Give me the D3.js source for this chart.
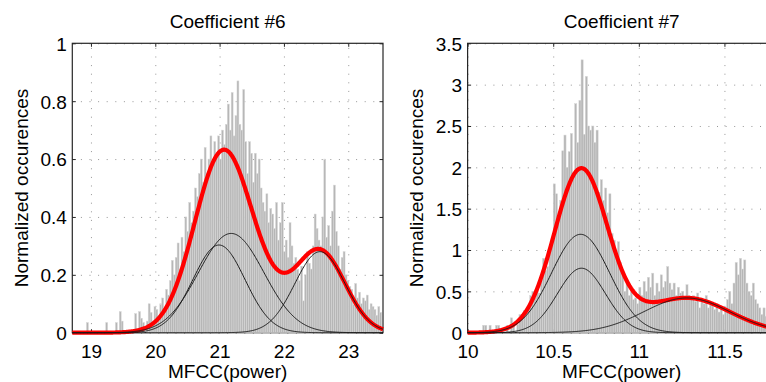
<!DOCTYPE html>
<html>
<head>
<meta charset="utf-8">
<script src="https://cdn.jsdelivr.net/npm/d3@7"></script>
<style>
  body { margin: 0; background: #fff; }
  svg { display: block; font-family: "Liberation Sans", Arial, Helvetica, sans-serif; }
</style>
</head>
<body>
<svg id="chart" width="766" height="382"></svg>
<script>
// ---- data ----
const titles = ["Coefficient #6", "Coefficient #7"]
const xLabel = "MFCC(power)"
const yLabel = "Normalized occurences"

// coefficient 6
const c6XTicks = [19, 20, 21, 22, 23]
const c6XTickLabels = ["19", "20", "21", "22", "23"]
const c6YTicks = [0, 0.2, 0.4, 0.6, 0.8, 1]
const c6YTickLabels = ["0", "0.2", "0.4", "0.6", "0.8", "1"]
const c6XRange = [18.71, 23.54]
const c6YMax = 1
const c6BinStart = 18.90
const c6BinWidth = 0.03
const c6Hist = [
  0, 0.035, 0, 0, 0, 0, 0, 0, 0, 0,
  0, 0.035, 0, 0, 0, 0, 0.035, 0, 0.073, 0.04,
  0, 0, 0, 0, 0, 0, 0.066, 0, 0.073, 0.05,
  0.035, 0, 0.04, 0.1, 0.07, 0.03, 0.09, 0.08, 0.06, 0.1,
  0.12, 0.08, 0.15, 0.13, 0.18, 0.25, 0.2, 0.26, 0.31, 0.22,
  0.33, 0.28, 0.4, 0.35, 0.45, 0.38, 0.42, 0.5, 0.47, 0.55,
  0.6, 0.52, 0.64, 0.55, 0.6, 0.68, 0.58, 0.66, 0.62, 0.68,
  0.6, 0.7, 0.65, 0.72, 0.79, 0.7, 0.83, 0.68, 0.75, 0.87,
  0.72, 0.7, 0.84, 0.66, 0.55, 0.66, 0.62, 0.52, 0.62, 0.55,
  0.6, 0.5, 0.45, 0.42, 0.48, 0.38, 0.43, 0.41, 0.36, 0.45,
  0.32, 0.38, 0.45, 0.28, 0.32, 0.26, 0.38, 0.3, 0.24, 0.26,
  0.22, 0.18, 0.23, 0.11, 0.2, 0.28, 0.24, 0.22, 0.3, 0.41,
  0.36, 0.32, 0.3, 0.4, 0.6, 0.33, 0.37, 0.3, 0.42, 0.51,
  0.35, 0.3, 0.22, 0.26, 0.28, 0.2, 0.18, 0.16, 0.15, 0.1,
  0.17, 0.12, 0.14, 0.1, 0.12, 0.11, 0.13, 0.08, 0.1, 0.09,
  0.08, 0.06, 0.09, 0.07
]
// mixture components: mean, std dev, peak height
const c6Means = [20.99, 21.18, 22.56]
const c6Sigmas = [0.405, 0.509, 0.39]
const c6Peaks = [0.303, 0.343, 0.28]

// coefficient 7
const c7XTicks = [10, 10.5, 11, 11.5]
const c7XTickLabels = ["10", "10.5", "11", "11.5"]
const c7YTicks = [0, 0.5, 1, 1.5, 2, 2.5, 3, 3.5]
const c7YTickLabels = ["0", "0.5", "1", "1.5", "2", "2.5", "3", "3.5"]
const c7XRange = [10, 11.8]
const c7YMax = 3.5
const c7BinStart = 10.05
const c7BinWidth = 0.0125
const c7Hist = [
  0, 0, 0, 0.09, 0.09, 0, 0.09, 0, 0, 0.09,
  0.09, 0, 0, 0, 0.09, 0, 0.18, 0.09, 0, 0.1,
  0.22, 0.2, 0.27, 0.24, 0.3, 0.45, 0.5, 0.42, 0.56, 0.48,
  0.63, 0.9, 0.75, 0.8, 1.0, 1.13, 1.8, 1.68, 1.4, 1.6,
  2.2, 2.39, 2.0, 2.19, 2.41, 1.9, 2.77, 2.3, 2.81, 3.3,
  2.4, 3.1, 2.5, 2.45, 2.5, 2.3, 2.45, 1.7, 1.85, 1.6,
  1.75, 1.45, 1.68, 1.2, 1.12, 1.0, 1.1, 0.85, 0.75, 0.5,
  0.6, 0.45, 0.5, 0.4, 0.42, 0.35, 0.55, 0.45, 0.62, 0.5,
  0.67, 0.55, 0.72, 0.45, 0.6, 0.5, 0.7, 0.55, 0.62, 0.8,
  0.6, 0.52, 0.6, 0.45, 0.55, 0.48, 0.5, 0.42, 0.58, 0.45,
  0.4, 0.45, 0.38, 0.48, 0.3, 0.42, 0.35, 0.45, 0.3, 0.38,
  0.33, 0.28, 0.35, 0.25, 0.32, 0.22, 0.3, 0.4, 0.5, 0.35,
  0.6, 0.85, 0.7, 0.9, 0.77, 0.88, 0.6, 0.5, 0.45, 0.6,
  0.4, 0.35, 0.3, 0.22, 0.3, 0.2, 0.25, 0.18, 0.22, 0.15
]
const c7Means = [10.66, 10.665, 11.28]
const c7Sigmas = [0.17, 0.14, 0.25]
const c7Peaks = [1.19, 0.78, 0.42]

// ---- layout ----
const svg = d3.select("#chart")
const plotTop = 43.3, plotBottom = 332.7
const h = plotBottom - plotTop

const panels = [
  { left: 72.3, width: 310.7, title: titles[0], xRange: c6XRange, yMax: c6YMax,
    xTicks: c6XTicks, xTickLabels: c6XTickLabels, yTicks: c6YTicks, yTickLabels: c6YTickLabels,
    binStart: c6BinStart, binWidth: c6BinWidth, hist: c6Hist,
    means: c6Means, sigmas: c6Sigmas, peaks: c6Peaks },
  { left: 467.6, width: 308.2, title: titles[1], xRange: c7XRange, yMax: c7YMax,
    xTicks: c7XTicks, xTickLabels: c7XTickLabels, yTicks: c7YTicks, yTickLabels: c7YTickLabels,
    binStart: c7BinStart, binWidth: c7BinWidth, hist: c7Hist,
    means: c7Means, sigmas: c7Sigmas, peaks: c7Peaks }
]

function gauss(x, mu, s, a) {
  return a * Math.exp(-((x - mu) * (x - mu)) / (2 * s * s))
}

panels.forEach((p) => {
  const g = svg.append("g").attr("transform", `translate(${p.left},${plotTop})`)
  const w = p.width

  const xs = d3.scaleLinear().domain(p.xRange).range([0, w])
  const ys = d3.scaleLinear().domain([0, p.yMax]).range([h, 0])

  // dotted grid (under the data, like matlab)
  const gridX = g.append("g").attr("transform", `translate(0,${h})`)
    .call(d3.axisBottom(xs).tickValues(p.xTicks).tickSize(-h).tickFormat(""))
  const gridY = g.append("g")
    .call(d3.axisLeft(ys).tickValues(p.yTicks).tickSize(-w).tickFormat(""))
  ;[gridX, gridY].forEach(gg => {
    gg.select(".domain").remove()
    gg.selectAll("line").attr("stroke", "#8a8a8a").attr("stroke-width", 0.9)
      .attr("stroke-dasharray", "1,7.6")
  })

  // frame + inward ticks on all four sides
  g.append("rect").attr("width", w).attr("height", h)
    .attr("fill", "none").attr("stroke", "#262626").attr("stroke-width", 1.2)

  const tk = 3.5
  const axB = g.append("g").attr("transform", `translate(0,${h})`)
    .call(d3.axisBottom(xs).tickValues(p.xTicks).tickSize(-tk).tickPadding(12.2)
      .tickFormat((d, i) => p.xTickLabels[i]))
  const axT = g.append("g")
    .call(d3.axisTop(xs).tickValues(p.xTicks).tickSize(-tk).tickFormat(""))
  const axL = g.append("g")
    .call(d3.axisLeft(ys).tickValues(p.yTicks).tickSize(-tk).tickPadding(5.5)
      .tickFormat((d, i) => p.yTickLabels[i]))
  const axR = g.append("g").attr("transform", `translate(${w},0)`)
    .call(d3.axisRight(ys).tickValues(p.yTicks).tickSize(-tk).tickFormat(""))
  ;[axB, axT, axL, axR].forEach(a => {
    a.select(".domain").remove()
    a.selectAll("line").attr("stroke", "#262626").attr("stroke-width", 1)
    a.selectAll("text").attr("fill", "#000").attr("font-size", 19)
      .attr("font-family", '"Liberation Sans", Arial, Helvetica, sans-serif')
  })
  axL.selectAll("text").attr("dy", "0.36em")

  // histogram
  const bins = p.hist.map((v, i) => ({ x0: p.binStart + i * p.binWidth, x1: p.binStart + (i + 1) * p.binWidth, v }))
    .filter(b => b.v > 0)
  g.append("g").selectAll("rect").data(bins).join("rect")
    .attr("x", d => xs(d.x0))
    .attr("y", d => ys(d.v))
    .attr("width", d => xs(d.x1) - xs(d.x0))
    .attr("height", d => ys(0) - ys(d.v))
    .attr("fill", "#b6b6b6")
    .attr("stroke", "#d8d8d8")
    .attr("stroke-width", 0.5)

  // mixture curves
  const n = 400
  const sx = d3.range(n + 1).map(i => p.xRange[0] + (p.xRange[1] - p.xRange[0]) * i / n)
  const comps = p.means.map((mu, k) => sx.map(x => [x, gauss(x, mu, p.sigmas[k], p.peaks[k])]))
  const total = sx.map((x, i) => [x, d3.sum(comps, c => c[i][1])])

  const line = d3.line().x(d => xs(d[0])).y(d => ys(d[1]))

  g.append("path").datum(total).attr("d", line)
    .attr("fill", "none").attr("stroke", "#ff0000").attr("stroke-width", 4.2)
    .attr("stroke-linejoin", "round")

  g.append("g").selectAll("path").data(comps).join("path")
    .attr("d", line)
    .attr("fill", "none").attr("stroke", "#1a1a1a").attr("stroke-width", 1)

  // titles and labels
  g.append("text").attr("x", w / 2).attr("y", -15)
    .attr("text-anchor", "middle").attr("font-size", 19).text(p.title)
  g.append("text").attr("x", w / 2).attr("y", h + 45)
    .attr("text-anchor", "middle").attr("font-size", 19).text(xLabel)
  g.append("text").attr("transform", `translate(-44.5,${h / 2}) rotate(-90)`)
    .attr("text-anchor", "middle").attr("font-size", 19).text(yLabel)
})
</script>
</body>
</html>
